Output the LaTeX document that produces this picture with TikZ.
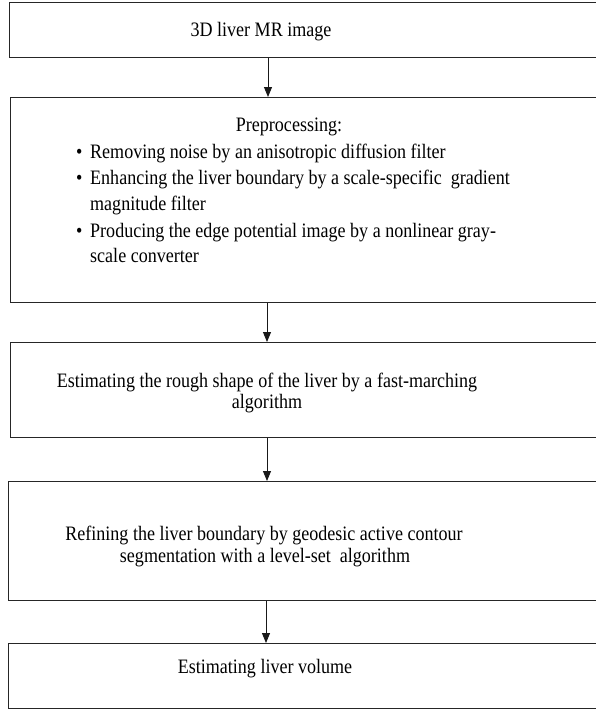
\documentclass[tikz,border=0pt]{standalone}
\usepackage{fontspec}
\setmainfont[FakeStretch=0.88]{Liberation Serif}
\usetikzlibrary{arrows.meta}
\begin{document}
\begin{tikzpicture}[x=1pt,y=-1pt,
  box/.style={draw=black!85,line width=1pt,anchor=north west,inner sep=0pt},
  txt/.style={anchor=base,inner sep=0pt,font=\fontsize{20.5}{24}\selectfont},
  ltxt/.style={anchor=base west,inner sep=0pt,font=\fontsize{20.5}{24}\selectfont},
  flow/.style={-{Triangle[width=8pt,length=10pt]},line width=0.9pt,black!90}]
\useasboundingbox (0,0) rectangle (595,709);
\fill[white] (0,0) rectangle (595,709);
% boxes
\node[box,minimum width=640pt,minimum height=55pt] (b1) at (9,2) {};
\node[box,minimum width=640pt,minimum height=205pt] (b2) at (10,97) {};
\node[box,minimum width=640pt,minimum height=95pt] (b3) at (10,342) {};
\node[box,minimum width=640pt,minimum height=119pt] (b4) at (8,481) {};
\node[box,minimum width=640pt,minimum height=65pt] (b5) at (8,643) {};
% texts
\node[txt] (t1) at (261,37) {3D liver MR image};
\node[txt] (t2) at (289,131) {Preprocessing:};
\node[ltxt] (p1) at (76,158) {\textbullet};
\node[ltxt] (l1) at (90,158) {Removing noise by an anisotropic diffusion filter};
\node[ltxt] (p2) at (76,184) {\textbullet};
\node[ltxt] (l2) at (90,184) {Enhancing the liver boundary by a scale-specific\ \ gradient};
\node[ltxt] (l3) at (90,210) {magnitude filter};
\node[ltxt] (p3) at (76,237) {\textbullet};
\node[ltxt] (l4) at (90,237) {Producing the edge potential image by a nonlinear gray-};
\node[ltxt] (l5) at (90,262) {scale converter};
\node[txt] (t3a) at (267,387) {Estimating the rough shape of the liver by a fast-marching};
\node[txt] (t3b) at (267,408) {algorithm};
\node[txt] (t4a) at (264,540) {Refining the liver boundary by geodesic active contour};
\node[txt] (t4b) at (265,562) {segmentation with a level-set\ \ algorithm};
\node[txt] (t5) at (265,673) {Estimating liver volume};
% arrows
\coordinate (x1) at (268,0);
\coordinate (x2) at (267,0);
\coordinate (x3) at (267,0);
\coordinate (x4) at (266,0);
\draw[flow] (b1.south -| x1) -- (b2.north -| x1);
\draw[flow] (b2.south -| x2) -- (b3.north -| x2);
\draw[flow] (b3.south -| x3) -- (b4.north -| x3);
\draw[flow] (b4.south -| x4) -- (b5.north -| x4);
\end{tikzpicture}
\end{document}
